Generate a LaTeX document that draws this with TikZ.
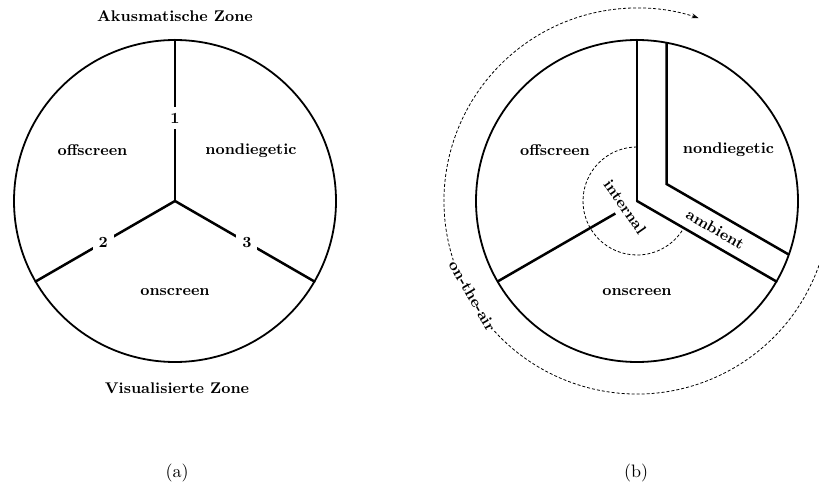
\documentclass[tikz,border=0pt]{standalone}
\usetikzlibrary{arrows.meta,calc}
\newcommand{\sclbl}[1]{\scalebox{1.8}{\fontsize{8.6}{10}\selectfont\bfseries #1}}
\newcommand{\sclcap}[1]{\scalebox{1.8}{\fontsize{10}{12}\selectfont #1}}
\begin{document}
\begin{tikzpicture}[x=1pt,y=1pt,
  lbl/.style={inner sep=1pt},
  captxt/.style={inner sep=0pt},
  rim/.style={line width=1.8pt},
  spoke/.style={line width=2.5pt, line cap=round},
  dsh/.style={line width=0.8pt, dash pattern=on 3pt off 2pt},
  num/.style={lbl, fill=white, inner sep=6pt}]
\clip (0,0) rectangle (819,488);
\coordinate (A) at (175,287);
\coordinate (B) at (637,287);
% ---------- (a) ----------
\draw[rim] (A) circle[radius=161];
\draw[spoke] (A) -- ($(A)+(90:161)$);
\draw[spoke] (A) -- ($(A)+(210:161)$);
\draw[spoke] (A) -- ($(A)+(330:161)$);
\node[num] (n1) at ($(A)+(90:83)$) {\sclbl{1}};
\node[num] (n2) at ($(A)+(210:83)$) {\sclbl{2}};
\node[num] (n3) at ($(A)+(330:83)$) {\sclbl{3}};
\node[lbl] (aoff) at (92.5,337.5) {\sclbl{offscreen}};
\node[lbl] (anon) at (251,337.5) {\sclbl{nondiegetic}};
\node[lbl] (aon) at (175,196) {\sclbl{onscreen}};
\node[lbl] (akus) at (175,472) {\sclbl{Akusmatische Zone}};
\node[lbl] (visu) at (177,100) {\sclbl{Visualisierte Zone}};
\node[captxt] (capa) at (177,15.5) {\sclcap{(a)}};
% ---------- (b) ----------
\draw[rim] (B) circle[radius=161];
\draw[spoke] (B) -- ($(B)+(90:161)$);
\draw[spoke] (B) -- ($(B)+(330:161)$);
\draw[spoke, line cap=butt] ($(B)+(210:25)$) -- ($(B)+(210:161)$);
\draw[spoke, line cap=butt, line join=miter] ($(B)+(79.44:161)$) -- ($(B)+(30:34.06)$) -- ($(B)+(-19.44:161)$);
\draw[dsh] ($(B)+(90:54)$) arc[start angle=90, end angle=330, radius=54];
\draw[dsh, -{Stealth[length=7pt,width=5pt]}] ($(B)+(-18:193)$) arc[start angle=-18, end angle=-288.6, radius=193];
\node[lbl, fill=white, rotate=-60] (air) at ($(B)+(210:190)$) {\sclbl{on-the-air}};
\node[lbl, rotate=-55] (int) at ($(B)+(-12,-6)$) {\sclbl{internal}};
\node[lbl, rotate=-30] (amb) at ($(B)+(78.4,-28.2)$) {\sclbl{ambient}};
\node[lbl] (boff) at (555,338) {\sclbl{offscreen}};
\node[lbl] (bnon) at (728.5,338) {\sclbl{nondiegetic}};
\node[lbl] (bon) at (637,196) {\sclbl{onscreen}};
\node[captxt] (capb) at (636,15.5) {\sclcap{(b)}};
\end{tikzpicture}
\end{document}
